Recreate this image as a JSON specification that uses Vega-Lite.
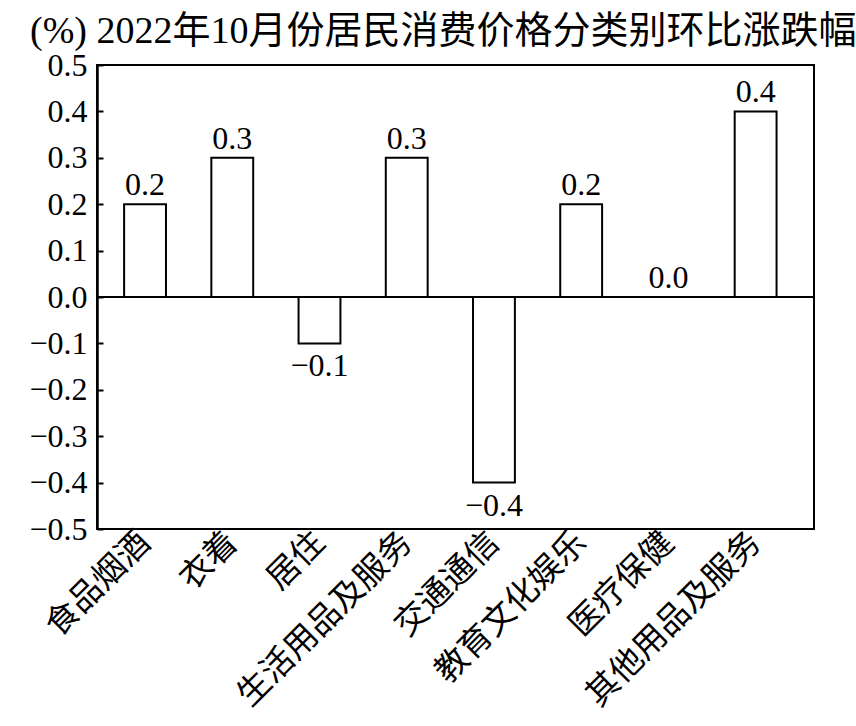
{
  "$schema": "https://vega.github.io/schema/vega-lite/v6.json",
  "autosize": "none",
  "width": 717,
  "height": 464,
  "padding": {"left": 97, "top": 65, "right": 42, "bottom": 197},
  "background": "white",
  "title": {
    "text": "(%) 2022年10月份居民消费价格分类别环比涨跌幅",
    "anchor": "start",
    "frame": "group",
    "dx": -67,
    "dy": 38,
    "offset": 6,
    "baseline": "alphabetic",
    "font": "Liberation Serif, Noto Sans CJK SC",
    "fontSize": 38,
    "fontWeight": "normal",
    "color": "black"
  },
  "config": {
    "view": {"stroke": "black", "strokeWidth": 2},
    "axis": {"grid": false}
  },
  "data": {
    "values": [
      {"category": "食品烟酒", "value": 0.2},
      {"category": "衣着", "value": 0.3},
      {"category": "居住", "value": -0.1},
      {"category": "生活用品及服务", "value": 0.3},
      {"category": "交通通信", "value": -0.4},
      {"category": "教育文化娱乐", "value": 0.2},
      {"category": "医疗保健", "value": 0.0},
      {"category": "其他用品及服务", "value": 0.4}
    ]
  },
  "encoding": {
    "x": {
      "field": "category",
      "type": "nominal",
      "sort": null,
      "scale": {"paddingInner": 0.52, "paddingOuter": 0.37, "align": 0.42},
      "axis": {
        "title": null,
        "domain": false,
        "ticks": false,
        "labelAngle": -45,
        "labelAlign": "right",
        "labelBaseline": "middle",
        "labelPadding": 8,
        "labelDx": 10,
        "labelFont": "Noto Sans CJK SC",
        "labelFontSize": 33,
        "labelColor": "black",
        "labelLimit": 0,
        "labelOverlap": false,
        "labelFlush": false,
        "labelBound": false
      }
    },
    "y": {
      "field": "value",
      "type": "quantitative",
      "scale": {"domain": [-0.5, 0.5], "nice": false, "zero": false},
      "axis": {
        "title": null,
        "values": [-0.5, -0.4, -0.3, -0.2, -0.1, 0, 0.1, 0.2, 0.3, 0.4, 0.5],
        "format": ".1f",
        "domainColor": "black",
        "domainWidth": 2.5,
        "tickColor": "black",
        "tickWidth": 2,
        "tickSize": -6,
        "labelPadding": 16,
        "labelFont": "Liberation Serif",
        "labelFontSize": 32,
        "labelColor": "black"
      }
    }
  },
  "layer": [
    {
      "mark": {"type": "bar", "fill": "white", "stroke": "black", "strokeWidth": 2}
    },
    {
      "mark": {"type": "rule", "color": "black", "strokeWidth": 2},
      "encoding": {"x": null, "y": {"datum": 0}}
    },
    {
      "transform": [{"filter": "datum.value >= 0"}],
      "mark": {"type": "text", "baseline": "bottom", "dy": -2, "font": "Liberation Serif", "fontSize": 32, "color": "black"},
      "encoding": {"text": {"field": "value", "type": "quantitative", "format": ".1f"}}
    },
    {
      "transform": [{"filter": "datum.value < 0"}],
      "mark": {"type": "text", "baseline": "top", "dy": 8, "font": "Liberation Serif", "fontSize": 32, "color": "black"},
      "encoding": {"text": {"field": "value", "type": "quantitative", "format": ".1f"}}
    }
  ]
}
